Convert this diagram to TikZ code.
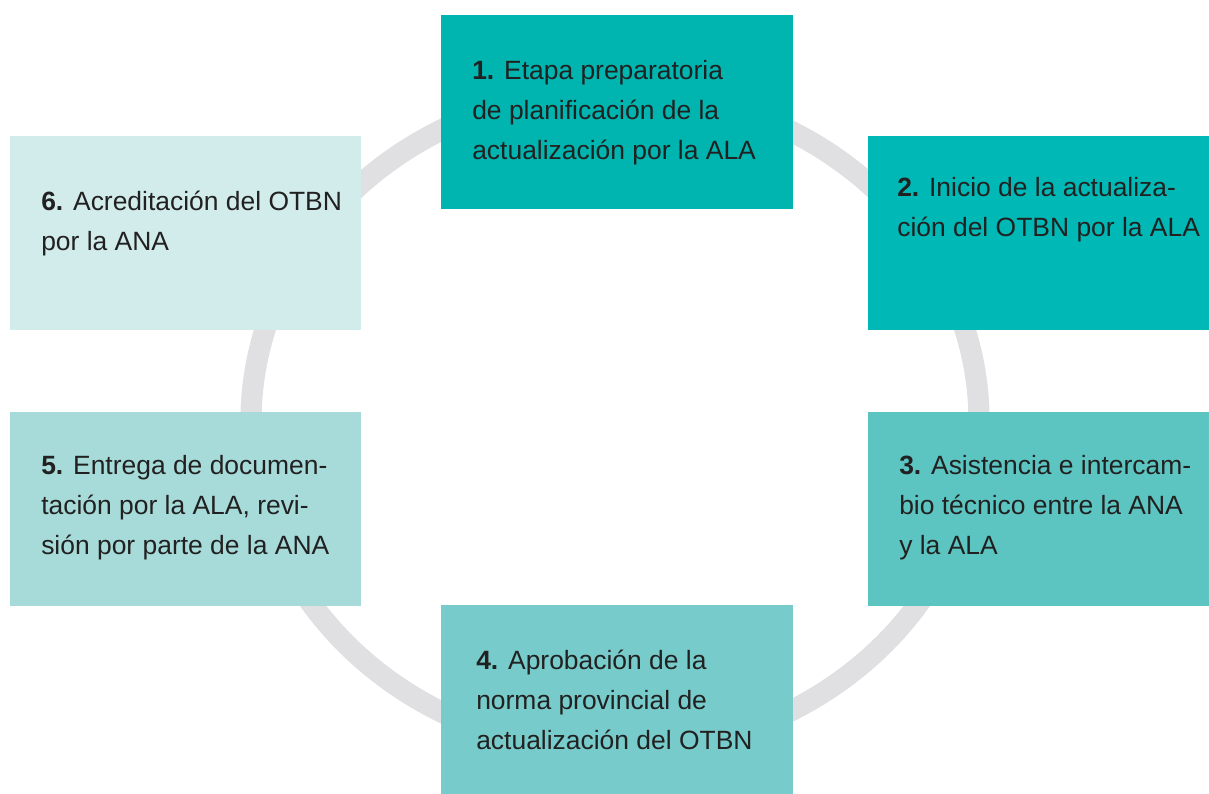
\documentclass[tikz,border=0pt]{standalone}
\usepackage{fontspec}
\setmainfont{Liberation Sans}
\usepackage{tikz}
\usetikzlibrary{positioning}

\definecolor{stepone}{HTML}{00B4AF}
\definecolor{steptwo}{HTML}{00B8B5}
\definecolor{stepthree}{HTML}{5DC5C1}
\definecolor{stepfour}{HTML}{77CBCA}
\definecolor{stepfive}{HTML}{A7DBD9}
\definecolor{stepsix}{HTML}{D2ECEB}
\definecolor{ringgray}{HTML}{E0E0E2}
\definecolor{textdark}{HTML}{212121}

\tikzset{
  stepbox/.style={rectangle, inner sep=0pt, anchor=north west},
  steptext/.style={anchor=north west, align=left, inner sep=0pt, text=textdark,
    font=\fontsize{18.8}{28.45}\selectfont}
}

\begin{document}
\begin{tikzpicture}[x=0.025cm,y=-0.025cm]
    \useasboundingbox (0,0) rectangle (1209,794);
    % cycle ring behind the steps
    \draw[ringgray, line width=0.53cm] (615,421) ellipse (364 and 331);

    \node[stepbox, fill=stepone, minimum width=8.8cm, minimum height=4.85cm] (box1) at (441,15) {};
    \node[stepbox, fill=steptwo, minimum width=8.525cm, minimum height=4.85cm] (box2) at (868,136) {};
    \node[stepbox, fill=stepthree, minimum width=8.525cm, minimum height=4.85cm] (box3) at (868,412) {};
    \node[stepbox, fill=stepfour, minimum width=8.8cm, minimum height=4.725cm] (box4) at (441,605) {};
    \node[stepbox, fill=stepfive, minimum width=8.775cm, minimum height=4.85cm] (box5) at (10,412) {};
    \node[stepbox, fill=stepsix, minimum width=8.775cm, minimum height=4.85cm] (box6) at (10,136) {};

    \node[steptext] (text1) at (472,60) {\textbf{1.} Etapa preparatoria\\de planificación de la\\actualización por la ALA};
    \node[steptext] (text2) at (897,177) {\textbf{2.} Inicio de la actualiza-\\ción del OTBN por la ALA};
    \node[steptext] (text3) at (899,455) {\textbf{3.} Asistencia e intercam-\\bio técnico entre la ANA\\y la ALA};
    \node[steptext] (text4) at (476,650) {\textbf{4.} Aprobación de la\\norma provincial de\\actualización del OTBN};
    \node[steptext] (text5) at (41,455) {\textbf{5.} Entrega de documen-\\tación por la ALA, revi-\\sión por parte de la ANA};
    \node[steptext] (text6) at (41,191) {\textbf{6.} Acreditación del OTBN\\por la ANA};
\end{tikzpicture}
\end{document}
